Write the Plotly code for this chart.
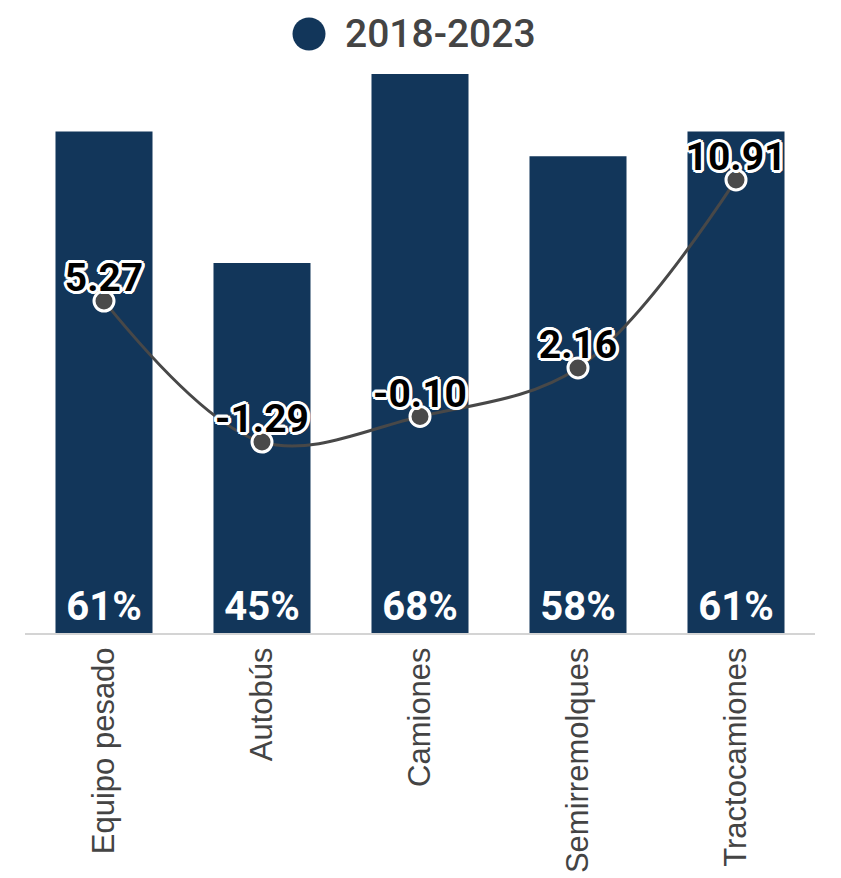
import plotly.graph_objects as go

categories = ["Equipo pesado", "Autobús", "Camiones", "Semirremolques", "Tractocamiones"]
share_pct = [61, 45, 68, 58, 61]
growth = [5.27, -1.29, -0.10, 2.16, 10.91]
legend_label = "2018-2023"

BAR_COLOR = "#12365a"
LINE_COLOR = "#484848"
outline = ", ".join(f"{dx}px {dy}px 0 #ffffff" for dx, dy in
                    [(2, 0), (-2, 0), (0, 2), (0, -2), (2, 2), (-2, -2), (2, -2), (-2, 2),
                     (3, 0), (-3, 0), (0, 3), (0, -3), (3, 1), (-3, -1), (1, 3), (-1, -3)])

fig = go.Figure()
fig.add_trace(go.Bar(
    x=categories, y=share_pct, name=legend_label,
    marker=dict(color=BAR_COLOR, line=dict(width=0)),
    text=[f"{v}%" for v in share_pct], textposition="inside",
    insidetextanchor="start", textangle=0,
    textfont=dict(family="Roboto", size=40, color="#ffffff", weight=700),
    showlegend=False, hoverinfo="skip",
))
fig.add_trace(go.Scatter(
    x=categories, y=growth, yaxis="y2", mode="lines+markers",
    line=dict(color=LINE_COLOR, width=3, shape="spline", smoothing=1),
    marker=dict(size=20, color="#4a4a4a", line=dict(color="#ffffff", width=3)),
    showlegend=False, hoverinfo="skip",
))
fig.add_trace(go.Scatter(
    x=categories, y=growth, yaxis="y2", mode="text",
    text=[f"{v:.2f}" for v in growth], textposition="top center",
    textfont=dict(family="Roboto", size=39, color="#000000", weight=700, shadow=outline),
    showlegend=False, hoverinfo="skip", cliponaxis=False,
))

# legend drawn manually (large circle swatch)
fig.add_shape(type="circle", xref="paper", yref="paper",
              xsizemode="pixel", ysizemode="pixel",
              xanchor=0.3595, yanchor=1.0716, x0=-16.5, x1=16.5, y0=-16.5, y1=16.5,
              fillcolor=BAR_COLOR, line=dict(width=0))
fig.add_annotation(text=legend_label, xref="paper", yref="paper",
                   x=0.4019, y=1.0716, xanchor="left", yanchor="middle", showarrow=False,
                   font=dict(family="Roboto", size=39, color="#444444", weight=500))

fig.update_layout(
    width=841, height=878,
    margin=dict(l=17, r=34, t=66, b=253, autoexpand=False),
    paper_bgcolor="#ffffff", plot_bgcolor="#ffffff",
    bargap=0.386,
    xaxis=dict(showline=True, linecolor="#d4d4d4", linewidth=2, showgrid=False,
               automargin=False, tickangle=-90, ticks="", ticklabelstandoff=0,
               tickfont=dict(family="Liberation Sans, Arial", size=31, color="#444444")),
    yaxis=dict(range=[0, 68], visible=False, showgrid=False, zeroline=False),
    yaxis2=dict(range=[-10.18, 15.84], overlaying="y", visible=False,
                showgrid=False, zeroline=False),
)

fig.write_html("out.html")
